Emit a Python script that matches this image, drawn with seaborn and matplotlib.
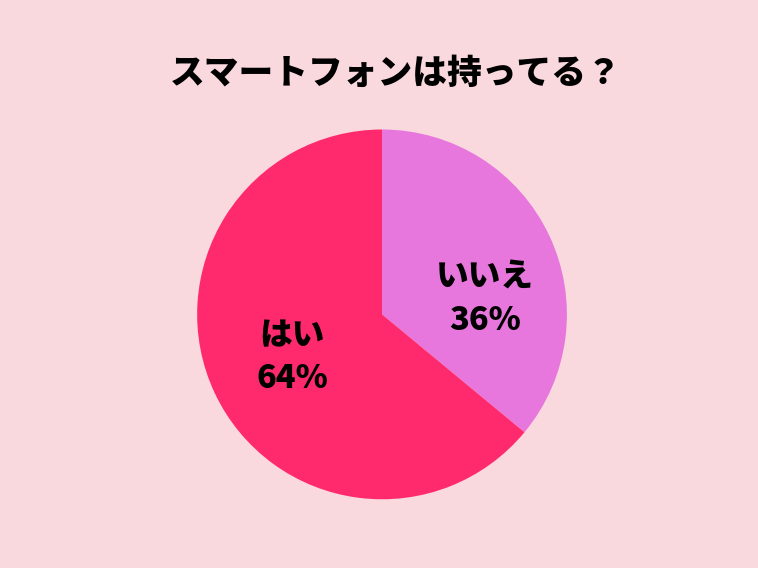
import matplotlib
matplotlib.use("Agg")
import matplotlib.pyplot as plt
import seaborn as sns

# data
answers = ["いいえ", "はい"]
shares = [36, 64]
slice_colors = ["#E877DD", "#FF2A6D"]
title = "スマートフォンは持ってる？"

sns.set_theme(style="white")
plt.rcParams["font.family"] = ["Noto Sans CJK JP", "DejaVu Sans"]

bg = "#F9D9DD"
fig = plt.figure(figsize=(7.58, 5.68), dpi=100, facecolor=bg)

# square axes holding the pie, centred where the reference circle sits
ax = fig.add_axes([0.260, 0.121, 0.488, 0.651])
ax.set_facecolor(bg)
ax.pie(shares, colors=slice_colors, startangle=90, counterclock=False,
       radius=1.0, wedgeprops={"linewidth": 0})
ax.set_xlim(-1, 1)
ax.set_ylim(-1, 1)
ax.set_aspect("equal")
ax.axis("off")

# slice labels, placed by hand like the original
label_pos = [(0.555, 0.086), (-0.486, -0.232)]
for name, pct, (lx, ly) in zip(answers, shares, label_pos):
    ax.text(lx, ly, f"{name}\n{pct}%", ha="center", va="center",
            fontsize=23.5, fontweight="black", color="black", linespacing=1.35)

fig.text(0.522, 0.871, title, ha="center", va="center",
         fontsize=25, fontweight="black", color="black")

fig.savefig("out.png", dpi=100, facecolor=bg)
